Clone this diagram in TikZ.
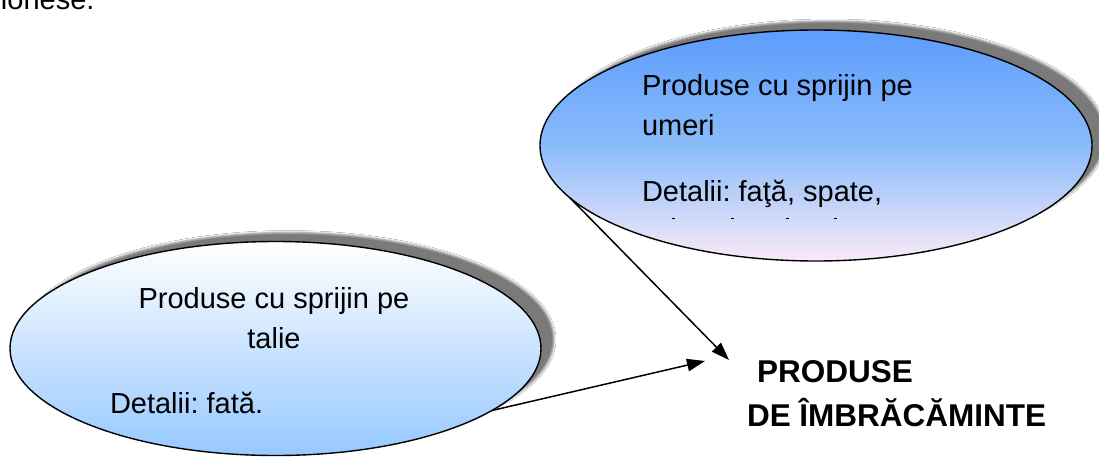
\documentclass[tikz,border=0pt]{standalone}
\usepackage{fontspec}
\setmainfont{Liberation Sans}
\usetikzlibrary{shapes.geometric,arrows.meta,shadows.blur}
\definecolor{upTop}{RGB}{92,156,252}
\definecolor{upMid}{RGB}{138,188,250}
\definecolor{upBot}{RGB}{250,234,248}
\definecolor{loTop}{RGB}{255,255,255}
\definecolor{loBot}{RGB}{150,200,255}
\begin{document}
\frenchspacing
\begin{tikzpicture}[x=1pt,y=-1pt,
  bubble/.style={ellipse, draw=black, line width=1.4pt, inner sep=0pt, outer sep=0pt,
    blur shadow={shadow xshift=13pt, shadow yshift=9pt, shadow opacity=52, shadow blur radius=2pt}},
  txt/.style={inner sep=0pt, outer sep=0pt, font=\fontsize{29}{35}\selectfont},
  btxt/.style={inner sep=0pt, outer sep=0pt, font=\fontsize{31.5}{38}\selectfont\bfseries},
  arr/.style={line width=1.5pt, -{Triangle[length=18pt,width=12.5pt]}},
  tick/.style={line width=1pt}]
\useasboundingbox (0,0) rectangle (1099,457);
\fill[white] (0,0) rectangle (1099,457);

% fragment of text at top
\node[txt, anchor=base west] (frag) at (1,10) {ionese.};

% upper ellipse
\node[bubble, minimum width=552pt, minimum height=231pt,
  top color=upTop, bottom color=upBot, middle color=upMid] (up) at (816,145.5) {};
\node[txt, anchor=base west] (u1) at (642,96) {Produse cu sprijin pe};
\node[txt, anchor=base west] (u2) at (642,136) {umeri};
\node[txt, anchor=base west] (u3) at (642,201) {Detalii: faţă, spate,};
\foreach \x in {673,732,787,835} \draw[tick] (\x-1.5,218) -- (\x+1.5,218);

% lower ellipse
\node[bubble, minimum width=531pt, minimum height=214pt,
  top color=loTop, bottom color=loBot] (lo) at (275.5,348.5) {};
\node[txt, anchor=base] (l1) at (274,308) {Produse cu sprijin pe};
\node[txt, anchor=base] (l2) at (274,348) {talie};
\node[txt, anchor=base west] (l3) at (110,413) {Detalii: fată.};

% target text
\node[btxt, anchor=base west] (t1) at (757,382) {PRODUSE};
\node[btxt, anchor=base west] (t2) at (747,426) {DE ÎMBRĂCĂMINTE};

% arrows
\coordinate (tipA) at (729,360);
\coordinate (tipB) at (705,361);
\draw[arr] (up.192.6) -- (tipA);
\draw[arr] (lo.344.1) -- (tipB);
\end{tikzpicture}
\end{document}
